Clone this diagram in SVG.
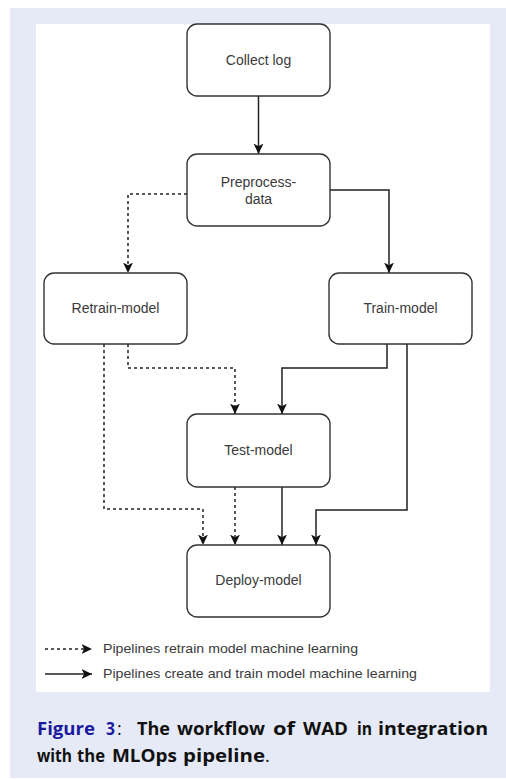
<svg xmlns="http://www.w3.org/2000/svg" width="506" height="780" viewBox="0 0 506 780">
  <defs>
    <style>
      .box { fill: #ffffff; stroke: #333333; stroke-width: 1.4; }
      .label { font-family: "Liberation Sans", Arial, sans-serif; font-size: 14px; fill: #3a3a3a; text-anchor: middle; }
      .edge { fill: none; stroke: #222222; stroke-width: 1.5; }
      .dash { stroke-dasharray: 3 3; }
      .legend { font-family: "Liberation Sans", Arial, sans-serif; font-size: 13.5px; fill: #3a3a3a; }
      .cap { font-family: "Open Sans", "Noto Sans", sans-serif; font-size: 18px; font-weight: 700; fill: #111111; }
      .figno { fill: #1a1a9e; }
    </style>
    <marker id="arrow" markerUnits="userSpaceOnUse" markerWidth="11" markerHeight="11" refX="9.5" refY="4.5" orient="auto" viewBox="0 0 10 9">
      <path d="M0,0 L9.5,4.5 L0,9 L2.4,4.5 Z" fill="#111111"/>
    </marker>
  </defs>

  <!-- page background and figure panel -->
  <rect x="10" y="8" width="496" height="770" fill="#e6eaf6"/>
  <rect x="36" y="24" width="454" height="668" fill="#ffffff"/>

  <!-- connectors -->
  <g id="connectors">
    <path class="edge" d="M258.5,96 V154" marker-end="url(#arrow)"/>
    <path class="edge dash" d="M187,194 H128 V273" marker-end="url(#arrow)"/>
    <path class="edge" d="M330,190 H389 V273" marker-end="url(#arrow)"/>
    <path class="edge dash" d="M128,344 V368 H235 V414" marker-end="url(#arrow)"/>
    <path class="edge dash" d="M104,344 V509 H203 V545" marker-end="url(#arrow)"/>
    <path class="edge" d="M387,344 V368 H282 V414" marker-end="url(#arrow)"/>
    <path class="edge" d="M407,344 V510 H316 V545" marker-end="url(#arrow)"/>
    <path class="edge dash" d="M235,487 V545" marker-end="url(#arrow)"/>
    <path class="edge" d="M282,487 V545" marker-end="url(#arrow)"/>
  </g>

  <!-- nodes -->
  <g id="collect-log">
    <rect class="box" x="187" y="24" width="143" height="72" rx="10"/>
    <text class="label" x="258.5" y="65">Collect log</text>
  </g>
  <g id="preprocess-data">
    <rect class="box" x="187" y="154" width="143" height="72" rx="10"/>
    <text class="label" x="258.5" y="187">Preprocess-</text>
    <text class="label" x="258.5" y="204">data</text>
  </g>
  <g id="retrain-model">
    <rect class="box" x="44" y="273" width="143" height="71" rx="10"/>
    <text class="label" x="115.5" y="313">Retrain-model</text>
  </g>
  <g id="train-model">
    <rect class="box" x="329" y="273" width="143" height="71" rx="10"/>
    <text class="label" x="400.5" y="313">Train-model</text>
  </g>
  <g id="test-model">
    <rect class="box" x="187" y="414" width="143" height="73" rx="10"/>
    <text class="label" x="258.5" y="455">Test-model</text>
  </g>
  <g id="deploy-model">
    <rect class="box" x="187" y="545" width="143" height="72" rx="10"/>
    <text class="label" x="258.5" y="585">Deploy-model</text>
  </g>

  <!-- legend -->
  <g id="legend">
    <path class="edge dash" d="M45,649 H92" marker-end="url(#arrow)"/>
    <text class="legend" x="103" y="653" textLength="255" lengthAdjust="spacingAndGlyphs">Pipelines retrain model machine learning</text>
    <path class="edge" d="M45,674 H92" marker-end="url(#arrow)"/>
    <text class="legend" x="103" y="678" textLength="314" lengthAdjust="spacingAndGlyphs">Pipelines create and train model machine learning</text>
  </g>

  <!-- caption -->
  <text class="cap" y="735">
    <tspan class="figno" x="37" textLength="58" lengthAdjust="spacingAndGlyphs">Figure</tspan>
    <tspan class="figno" x="106" textLength="9" lengthAdjust="spacingAndGlyphs">3</tspan>
    <tspan x="117" style="font-weight:400">:</tspan>
    <tspan x="137" textLength="33" lengthAdjust="spacingAndGlyphs">The</tspan>
    <tspan x="177" textLength="88" lengthAdjust="spacingAndGlyphs">workflow</tspan>
    <tspan x="273" textLength="22" lengthAdjust="spacingAndGlyphs">of</tspan>
    <tspan x="303" textLength="45" lengthAdjust="spacingAndGlyphs">WAD</tspan>
    <tspan x="357" textLength="15" lengthAdjust="spacingAndGlyphs">in</tspan>
    <tspan x="378" textLength="110" lengthAdjust="spacingAndGlyphs">integration</tspan>
  </text>
  <text class="cap" y="762">
    <tspan x="37" textLength="35" lengthAdjust="spacingAndGlyphs">with</tspan>
    <tspan x="77" textLength="28" lengthAdjust="spacingAndGlyphs">the</tspan>
    <tspan x="112" textLength="65" lengthAdjust="spacingAndGlyphs">MLOps</tspan>
    <tspan x="183" textLength="82" lengthAdjust="spacingAndGlyphs">pipeline</tspan><tspan style="font-weight:400">.</tspan>
  </text>
</svg>
